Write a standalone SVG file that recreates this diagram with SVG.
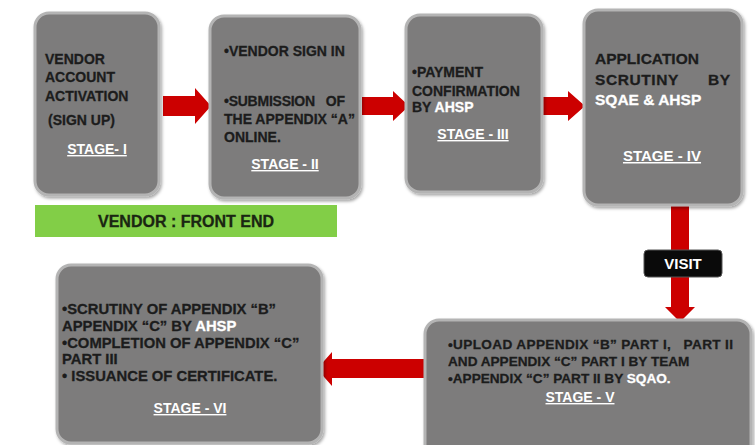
<svg xmlns="http://www.w3.org/2000/svg" width="755" height="445" viewBox="0 0 755 445">
<defs>
<filter id="sh" x="-10%" y="-10%" width="125%" height="125%">
<feDropShadow dx="1.5" dy="2" stdDeviation="1.5" flood-color="#000" flood-opacity="0.35"/>
</filter>
</defs>
<style>
.box{fill:#7d7b7b;stroke:#b4b4b4;stroke-width:3;filter:url(#sh)}
.t{font-family:"Liberation Sans",Arial,sans-serif;font-weight:bold;font-size:14px;fill:#1c1c1c;stroke:#1c1c1c;stroke-width:0.3}
.w{fill:#ffffff;stroke:#ffffff}
.st{font-family:"Liberation Sans",Arial,sans-serif;font-weight:bold;font-size:14px;fill:#ffffff;text-decoration:underline;text-anchor:middle}
.big{font-size:15.5px}
.s6{font-size:14.8px}
.s5{font-size:13.6px}
.arr{fill:#cc0000}
</style>
<rect x="0" y="0" width="755" height="445" fill="#ffffff"/>
<g id="connectors">
<polygon class="arr" points="163,96 195,96 195,88 211,106 195,124 195,116 163,116"/>
<polygon class="arr" points="362,97 393,97 393,91 409,106 393,121 393,115 362,115"/>
<polygon class="arr" points="542,97 568,97 568,91 585,106 568,121 568,115 542,115"/>
<polygon class="arr" points="671,205 689,205 689,307 695,307 680,322 665,307 671,307"/>
<polygon class="arr" points="425,359 332,359 332,352 317,369 332,386 332,378 425,378"/>
<g id="visit">
<rect x="644" y="250" width="78" height="27" rx="4" fill="#0a0a0a" stroke="#555" stroke-width="1"/>
<text x="683" y="269" font-family="Liberation Sans,Arial,sans-serif" font-weight="bold" font-size="15" fill="#ffffff" text-anchor="middle">VISIT</text>
</g>
</g>
<g id="stage1">
<rect class="box" x="35" y="13" width="124" height="182" rx="14"/>
<text class="t" x="45" y="64">VENDOR</text>
<text class="t" x="45" y="82">ACCOUNT</text>
<text class="t" x="45" y="101">ACTIVATION</text>
<text class="t" x="48" y="125">(SIGN UP)</text>
<text class="st" x="97" y="154">STAGE- I</text>
</g>
<g id="stage2">
<rect class="box" x="210" y="16" width="150" height="182" rx="14"/>
<text class="t" x="224" y="56">•VENDOR SIGN IN</text>
<text class="t" x="224" y="106" textLength="121" xml:space="preserve">•SUBMISSION   OF</text>
<text class="t" x="224" y="124">THE APPENDIX “A”</text>
<text class="t" x="224" y="142">ONLINE.</text>
<text class="st" x="285" y="169">STAGE - II</text>
</g>
<g id="stage3">
<rect class="box" x="406" y="15" width="136" height="177" rx="14"/>
<text class="t" x="412" y="77">•PAYMENT</text>
<text class="t" x="412" y="96">CONFIRMATION</text>
<text class="t" x="412" y="112">BY <tspan class="w">AHSP</tspan></text>
<text class="st" x="473" y="139">STAGE - III</text>
</g>
<g id="stage4">
<rect class="box" x="584" y="10" width="158" height="195" rx="14"/>
<text class="t big" x="595" y="64">APPLICATION</text>
<text class="t big" x="595" y="85" textLength="135" xml:space="preserve">SCRUTINY      BY</text>
<text class="t big w" x="595" y="105">SQAE &amp; AHSP</text>
<text class="st" x="662" y="161" style="font-size:15px">STAGE - IV</text>
</g>
<g id="frontend">
<rect x="35" y="205" width="302" height="32" fill="#82ce47"/>
<text x="186" y="227" font-family="Liberation Sans,Arial,sans-serif" font-weight="bold" font-size="16" fill="#1a2612" stroke="#1a2612" stroke-width="0.3" text-anchor="middle">VENDOR : FRONT END</text>
</g>
<g id="stage5">
<rect class="box" x="425" y="320" width="326" height="140" rx="14"/>
<text class="t s5" x="448" y="349" textLength="285" xml:space="preserve">•UPLOAD APPENDIX “B” PART I,   PART II</text>
<text class="t s5" x="448" y="366">AND APPENDIX “C” PART I BY TEAM</text>
<text class="t s5" x="448" y="383">•APPENDIX “C” PART II BY <tspan class="w">SQAO.</tspan></text>
<text class="st" x="580" y="402">STAGE - V</text>
</g>
<g id="stage6">
<rect class="box" x="57" y="265" width="265" height="178" rx="14"/>
<text class="t s6" x="62" y="314">•SCRUTINY OF APPENDIX “B”</text>
<text class="t s6" x="62" y="331">APPENDIX “C” BY <tspan class="w">AHSP</tspan></text>
<text class="t s6" x="62" y="348">•COMPLETION OF APPENDIX “C”</text>
<text class="t s6" x="62" y="364">PART III</text>
<text class="t s6" x="62" y="381">• ISSUANCE OF CERTIFICATE.</text>
<text class="st" x="190" y="413">STAGE - VI</text>
</g>
</svg>
